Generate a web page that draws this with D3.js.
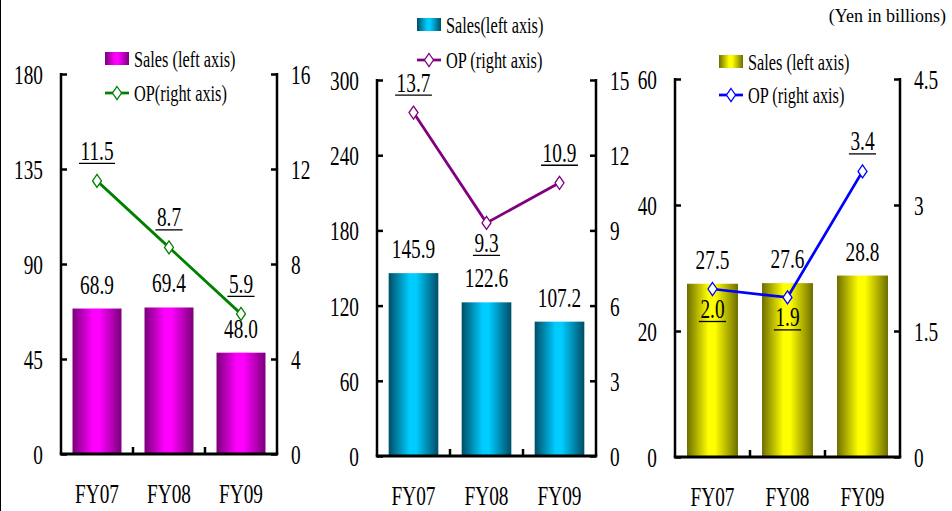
<!DOCTYPE html>
<html><head><meta charset="utf-8">
<script src="https://cdn.jsdelivr.net/npm/d3@7"></script>
<style>html,body{margin:0;padding:0;background:#fff;}svg{display:block;}</style>
</head><body>
<svg id="chart" width="952" height="511"></svg>
<script>
// ---- data ----
const categories = ["FY07", "FY08", "FY09"];
const sales1 = [68.9, 69.4, 48.0];
const op1 = [11.5, 8.7, 5.9];
const sales2 = [145.9, 122.6, 107.2];
const op2 = [13.7, 9.3, 10.9];
const sales3 = [27.5, 27.6, 28.8];
const op3 = [2.0, 1.9, 3.4];
const leftTicks1 = [0, 45, 90, 135, 180];
const rightTicks1 = [0, 4, 8, 12, 16];
const leftTicks2 = [0, 60, 120, 180, 240, 300];
const rightTicks2 = [0, 3, 6, 9, 12, 15];
const leftTicks3 = [0, 20, 40, 60];
const rightTicks3 = [0, 1.5, 3, 4.5];
const salesLegend = ["Sales (left axis)", "Sales(left axis)", "Sales (left axis)"];
const opLegend = ["OP(right axis)", "OP (right axis)", "OP (right axis)"];
const unitNote = "(Yen in billions)";

// ---- layout / style ----
const FONT = "'Liberation Serif','DejaVu Serif',serif";
const SX = 0.69;
const FS = 28;
const panels = [
  {sales: sales1, op: op1, lt: leftTicks1, rt: rightTicks1, x0: 61, x1: 277, top: 74, bot: 454,
   dark: "#7a007a", bright: "#ff00ff", line: "#008000", opPos: ["a","a","a"],
   legX: 105, legY1: 52, legY2: 93},
  {sales: sales2, op: op2, lt: leftTicks2, rt: rightTicks2, x0: 377, x1: 596, top: 80, bot: 456,
   dark: "#004d66", bright: "#00ccff", line: "#800080", opPos: ["a","b","a"],
   legX: 417, legY1: 18, legY2: 60},
  {sales: sales3, op: op3, lt: leftTicks3, rt: rightTicks3, x0: 675, x1: 900, top: 79, bot: 457,
   dark: "#6e6e00", bright: "#ffff00", line: "#0000ff", opPos: ["b","b","a"],
   legX: 719, legY1: 55, legY2: 95}
];

const svg = d3.select("#chart");
const defs = svg.append("defs");

function txt(g, x, y, s, size, anchor, sx) {
  return g.append("text")
    .attr("transform", `translate(${x},${y}) scale(${sx === undefined ? SX : sx},1)`)
    .attr("text-anchor", anchor || "middle")
    .attr("font-family", FONT).attr("font-size", size).attr("fill", "#000")
    .text(s);
}
const diamond = "M0,-6.5L4.5,0L0,6.5L-4.5,0Z";

// left border
svg.append("line").attr("x1", 0.5).attr("x2", 0.5).attr("y1", 0).attr("y2", 511)
  .attr("stroke", "#000").attr("stroke-width", 1);

panels.forEach((p, i) => {
  const g = svg.append("g");
  const grad = defs.append("linearGradient").attr("id", "grad" + i)
    .attr("x1", "0%").attr("x2", "100%").attr("y1", "0%").attr("y2", "0%");
  grad.append("stop").attr("offset", "0%").attr("stop-color", p.dark);
  grad.append("stop").attr("offset", "42%").attr("stop-color", p.bright);
  grad.append("stop").attr("offset", "55%").attr("stop-color", p.bright);
  grad.append("stop").attr("offset", "100%").attr("stop-color", p.dark);

  const x = d3.scaleBand().domain(categories).range([p.x0, p.x1]).paddingInner(0.32).paddingOuter(0.16);
  const yL = d3.scaleLinear().domain([0, d3.max(p.lt)]).range([p.bot, p.top]);
  const yR = d3.scaleLinear().domain([0, d3.max(p.rt)]).range([p.bot, p.top]);

  // bars
  g.selectAll("rect.bar").data(p.sales).join("rect").attr("class", "bar")
    .attr("x", (d, j) => x(categories[j])).attr("width", x.bandwidth())
    .attr("y", d => yL(d)).attr("height", d => yL(0) - yL(d))
    .attr("fill", `url(#grad${i})`);

  // axes
  const axL = d3.axisLeft(yL).tickValues(p.lt).tickSize(-6).tickPadding(18).tickFormat(d3.format("~g"));
  const axR = d3.axisRight(yR).tickValues(p.rt).tickSize(-6).tickPadding(14).tickFormat(d3.format("~g"));
  const gL = g.append("g").attr("transform", `translate(${p.x0},0)`).call(axL);
  const gR = g.append("g").attr("transform", `translate(${p.x1},0)`).call(axR);
  [gL, gR].forEach(ax => {
    ax.select(".domain").remove();
    ax.selectAll(".tick line").attr("stroke", "#000").attr("stroke-width", 2.5);
    ax.selectAll(".tick text").attr("font-family", FONT).attr("font-size", FS).attr("fill", "#000")
      .attr("dy", "0.34em");
    ax.selectAll(".tick text").each(function () {
      const t = d3.select(this); const xx = +t.attr("x");
      t.attr("x", null).attr("transform", `translate(${xx},0) scale(${SX},1)`);
    });
  });
  g.append("line").attr("x1", p.x0).attr("x2", p.x0).attr("y1", p.top - 1).attr("y2", p.bot)
    .attr("stroke", "#000").attr("stroke-width", 2.5);
  g.append("line").attr("x1", p.x1).attr("x2", p.x1).attr("y1", p.top - 1).attr("y2", p.bot)
    .attr("stroke", "#000").attr("stroke-width", 2.5);
  g.append("line").attr("x1", p.x0 - 1.25).attr("x2", p.x1 + 1.25).attr("y1", p.bot).attr("y2", p.bot)
    .attr("stroke", "#000").attr("stroke-width", 3);
  // category separators
  categories.slice(1).forEach(c => {
    const xs = x(c) - x.step() * x.paddingInner() / 2;
    g.append("line").attr("x1", xs).attr("x2", xs).attr("y1", p.bot).attr("y2", p.bot - 7)
      .attr("stroke", "#000").attr("stroke-width", 2.5);
  });
  // category labels
  categories.forEach(c => txt(g, x(c) + x.bandwidth() / 2, p.bot + 49, c, FS));

  // sales labels
  p.sales.forEach((v, j) => txt(g, x(categories[j]) + x.bandwidth() / 2, yL(v) - 15, v.toFixed(1), FS));

  // OP line
  const cx = j => x(categories[j]) + x.bandwidth() / 2;
  g.append("path").datum(p.op)
    .attr("d", d3.line().x((d, j) => cx(j)).y(d => yR(d)))
    .attr("fill", "none").attr("stroke", p.line).attr("stroke-width", 2.75);
  g.selectAll("path.mk").data(p.op).join("path").attr("class", "mk")
    .attr("d", diamond).attr("transform", (d, j) => `translate(${cx(j)},${yR(d)})`)
    .attr("fill", "#fff").attr("stroke", p.line).attr("stroke-width", 1.3);
  // OP labels (underlined)
  p.op.forEach((v, j) => {
    const by = p.opPos[j] === "a" ? yR(v) - 21 : yR(v) + 29;
    const t = txt(g, cx(j), by, v.toFixed(1), FS);
    const w = t.node().getBBox().width * SX;
    g.append("line").attr("x1", cx(j) - w / 2 - 1.5).attr("x2", cx(j) + w / 2 + 1.5)
      .attr("y1", by + 3.5).attr("y2", by + 3.5).attr("stroke", "#000").attr("stroke-width", 1.3);
  });

  // legend
  g.append("rect").attr("x", p.legX).attr("y", p.legY1).attr("width", 24).attr("height", 13)
    .attr("fill", `url(#grad${i})`);
  txt(g, p.legX + 29, p.legY1 + 15, salesLegend[i], 24, "start", 0.68);
  g.append("line").attr("x1", p.legX).attr("x2", p.legX + 24).attr("y1", p.legY2).attr("y2", p.legY2)
    .attr("stroke", p.line).attr("stroke-width", 2.75);
  g.append("path").attr("d", diamond).attr("transform", `translate(${p.legX + 12},${p.legY2})`)
    .attr("fill", "#fff").attr("stroke", p.line).attr("stroke-width", 1.3);
  txt(g, p.legX + 29, p.legY2 + 8, opLegend[i], 24, "start", 0.68);
});

txt(svg, 946, 22, unitNote, 18, "end", 1);
</script>
</body></html>
